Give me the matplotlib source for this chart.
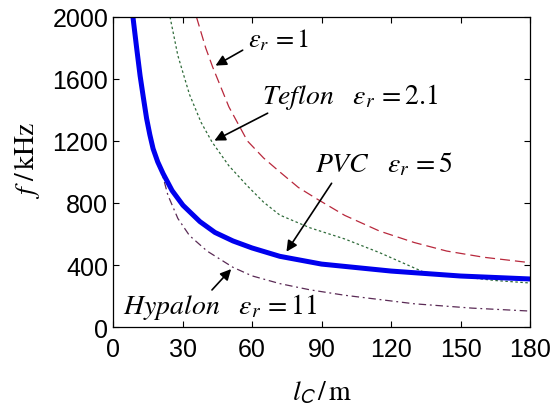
import matplotlib
matplotlib.use("Agg")
import matplotlib.pyplot as plt

# values (cable length in m, frequency in kHz)
air_x = [36, 40, 43, 50, 58, 65, 72, 80, 88, 100, 115, 130, 144, 160, 180]
air_y = [2000, 1800, 1677, 1420, 1200, 1090, 1000, 900, 826, 720, 619, 545, 490, 450, 415]

teflon_x = [24.6, 28, 33, 38, 42.7, 50, 58, 65, 72, 85, 100, 115, 134, 150, 165, 180]
teflon_y = [2000, 1750, 1500, 1320, 1194, 1040, 910, 805, 722, 640, 568, 480, 355, 325, 300, 284]

pvc_x = [8.6, 10.2, 11.7, 13.1, 14.5, 15.9, 17.3, 19.3, 21.6, 25.5, 30.2, 37.5, 44, 51.8, 60, 72, 90, 120, 150, 180]
pvc_y = [2000, 1800, 1620, 1480, 1345, 1240, 1150, 1065, 990, 880, 785, 680, 610, 555, 510, 456, 406, 361, 329, 310]

hypalon_x = [20.3, 23.7, 28, 33, 40.6, 51.8, 60, 72, 85, 100, 130, 155, 180]
hypalon_y = [1040, 850, 700, 590, 490, 385, 330, 280, 240, 205, 150, 122, 103]

xticks = [0, 30, 60, 90, 120, 150, 180]
yticks = [0, 400, 800, 1200, 1600, 2000]

plt.rcParams['mathtext.fontset'] = 'stix'
plt.rcParams['font.family'] = ['Liberation Sans', 'DejaVu Sans']


def main():
    fig = plt.figure(figsize=(5.58, 4.06), dpi=100)
    ax = fig.add_axes([0.2025, 0.192, 0.7475, 0.764])

    ax.plot(air_x, air_y, color='#b8283c', lw=0.9, dashes=(8, 4))
    ax.plot(teflon_x, teflon_y, color='#2f6b3a', lw=0.9, dashes=(2, 2))
    ax.plot(hypalon_x, hypalon_y, color='#5a2a55', lw=0.9, dashes=(6, 3, 1.5, 3))
    ax.plot(pvc_x, pvc_y, color='#0000ee', lw=3.6)

    ax.set_xlim(0, 180)
    ax.set_ylim(0, 2000)
    ax.set_xticks(xticks)
    ax.set_yticks(yticks)
    ax.tick_params(direction='in', top=True, right=True, labelsize=18, length=4)
    ax.tick_params(axis='x', pad=7)
    for s in ax.spines.values():
        s.set_linewidth(0.9)

    ax.set_xlabel(r'$l_{\mathsf{C}}\,/\,\mathrm{m}$', fontsize=20, va='center')
    ax.xaxis.set_label_coords(0.5, -0.21)
    ax.set_ylabel(r'$f\ /\,\mathrm{kHz}$', fontsize=20, va='center')
    ax.yaxis.set_label_coords(-0.206, 0.54)

    ts = 20
    aprops = dict(arrowstyle='-|>', color='black', lw=1.2, mutation_scale=16)
    ax.text(58.3, 1858, r'$\varepsilon_r\,=1$', fontsize=19, va='center')
    ax.annotate('', xy=(43.2, 1677), xytext=(57, 1794), arrowprops=aprops)

    ax.text(64.3, 1490, r'$\it{Teflon}\ \ \ \varepsilon_r\,=2.1$', fontsize=ts, va='center')
    ax.annotate('', xy=(42.7, 1194), xytext=(67.8, 1387), arrowprops=aprops)

    ax.text(87.2, 1052, r'$\it{PVC}\ \ \ \varepsilon_r\,=5$', fontsize=ts, va='center')
    ax.annotate('', xy=(74.2, 471), xytext=(95, 942), arrowprops=aprops)

    ax.text(4.3, 135, r'$\it{Hypalon}\ \ \ \varepsilon_r\,=11$', fontsize=ts, va='center')
    ax.annotate('', xy=(51.8, 387), xytext=(41.9, 226), arrowprops=aprops)

    fig.savefig('out.png', dpi=100)


if __name__ == '__main__':
    main()
